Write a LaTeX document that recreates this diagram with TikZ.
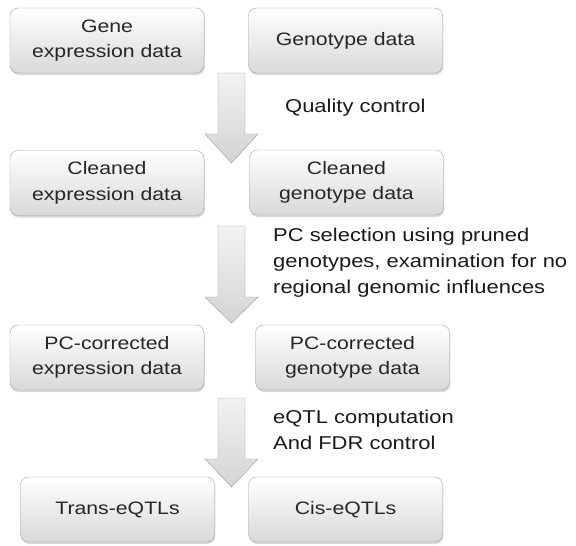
\documentclass[tikz,border=0pt]{standalone}
\usepackage{fontspec}
\setmainfont{Liberation Sans}[FakeStretch=1.18]
\usetikzlibrary{shadows}

\begin{document}
\begin{tikzpicture}[x=1pt, y=-1pt,
    stage/.style={draw=black!35, rounded corners=8pt, top color=white, bottom color=black!15, minimum width=194pt, minimum height=65pt, align=center, inner sep=2pt, font=\fontsize{18}{25.5}\selectfont, text=black!85, drop shadow={opacity=0.3, shadow xshift=0.8pt, shadow yshift=-2pt}},
    note/.style={anchor=west, align=left, inner sep=0pt, font=\fontsize{18.6}{26}\selectfont, text=black!90},
    flow/.style={draw=black!40, top color=black!5, bottom color=black!17}]
  \useasboundingbox (0,0) rectangle (576,546);
  % block arrows between the rows
  \foreach \ya/\yb/\yc in {73/134/163, 226/297/323, 398/459/487} {
    \draw[flow] (218,\ya) -- (245,\ya) -- (245,\yb) -- (258,\yb) -- (231.5,\yc) -- (205,\yb) -- (218,\yb) -- cycle;
  }
  \node[stage] (gexp) at (107,40.5) {Gene\\expression data};
  \node[stage] (geno) at (345.5,40.5) {Genotype data};
  \node[note] (qc) at (285,108) {Quality control};
  \node[stage] (cexp) at (107,183) {Cleaned\\expression data};
  \node[stage] (cgeno) at (346.5,182.5) {Cleaned\\genotype data};
  \node[note] (pcsel) at (273,263) {PC selection using pruned\\genotypes, examination for no\\regional genomic influences};
  \node[stage] (pcexp) at (107,357.5) {PC-corrected\\expression data};
  \node[stage] (pcgeno) at (352.5,357.5) {PC-corrected\\genotype data};
  \node[note] (eqtl) at (273,430) {eQTL computation\\And FDR control};
  \node[stage] (trans) at (117.5,509.5) {Trans-eQTLs};
  \node[stage] (cis) at (345.5,509.5) {Cis-eQTLs};
\end{tikzpicture}
\end{document}
